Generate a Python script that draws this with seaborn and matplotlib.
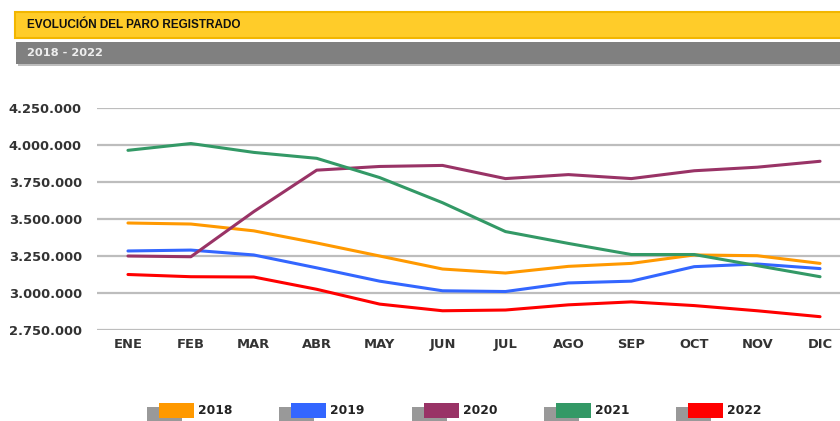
import matplotlib
matplotlib.use("Agg")
import matplotlib.pyplot as plt
from matplotlib.patches import Rectangle
from matplotlib.ticker import FuncFormatter
import seaborn as sns
import pandas as pd

# data
months = ["ENE", "FEB", "MAR", "ABR", "MAY", "JUN",
          "JUL", "AGO", "SEP", "OCT", "NOV", "DIC"]
years = ["2018", "2019", "2020", "2021", "2022"]
paro_2018 = [3473000, 3466000, 3420000, 3338000, 3250000, 3162000,
             3135000, 3180000, 3200000, 3257000, 3252000, 3200000]
paro_2019 = [3284000, 3290000, 3257000, 3170000, 3080000, 3015000,
             3010000, 3068000, 3080000, 3178000, 3196000, 3165000]
paro_2020 = [3250000, 3245000, 3550000, 3830000, 3855000, 3862000,
             3773000, 3800000, 3773000, 3826000, 3850000, 3890000]
paro_2021 = [3964000, 4010000, 3950000, 3910000, 3780000, 3610000,
             3415000, 3335000, 3260000, 3260000, 3185000, 3110000]
paro_2022 = [3125000, 3110000, 3108000, 3025000, 2925000, 2880000,
             2885000, 2920000, 2940000, 2915000, 2880000, 2840000]
y_ticks = [2750000, 3000000, 3250000, 3500000, 3750000, 4000000, 4250000]

colors = ["#FF9900", "#3366FF", "#993366", "#339966", "#FF0000"]

series = [paro_2018, paro_2019, paro_2020, paro_2021, paro_2022]
df = pd.concat([
    pd.DataFrame({"mes": range(len(months)), "paro": vals, "year": y})
    for y, vals in zip(years, series)
])

sns.set_style("white")
plt.rcParams["font.family"] = ["DejaVu Sans"]

W, H = 840, 421
fig = plt.figure(figsize=(W / 100, H / 100), dpi=100)

# plot area (pixel layout converted to figure fractions)
x0, x1 = 96.5, 851.5
y_top, y_bot = 108, 330
ax = fig.add_axes([x0 / W, 1 - y_bot / H, (x1 - x0) / W, (y_bot - y_top) / H])

sns.lineplot(data=df, x="mes", y="paro", hue="year", palette=colors,
             linewidth=2.2, legend=False, ax=ax)

ax.set_xlim(-0.5, 11.5)
ax.set_ylim(y_ticks[0], y_ticks[-1])
ax.set_yticks(y_ticks)
ax.set_xticks(range(len(months)))
ax.set_xticklabels(months)
ax.yaxis.set_major_formatter(FuncFormatter(lambda v, p: f"{v:,.0f}".replace(",", ".")))
ax.grid(axis="y", color="#BDBDBD", linewidth=1.6)
ax.set_axisbelow(True)
for s in ax.spines.values():
    s.set_visible(False)
ax.set_xlabel("")
ax.set_ylabel("")
ax.tick_params(axis="both", length=0, colors="#333333", labelsize=9.4)
ax.tick_params(axis="y", pad=10.5)
ax.tick_params(axis="x", pad=6)
for lab in ax.get_yticklabels() + ax.get_xticklabels():
    lab.set_fontweight("bold")


def px_rect(x, y, w, h, **kw):
    fig.patches.append(Rectangle((x / W, 1 - (y + h) / H), w / W, h / H,
                                 transform=fig.transFigure, **kw))


# header bars
px_rect(15, 12, 830, 26, facecolor="#FFCC29", edgecolor="#F2B600", linewidth=1.5)
px_rect(18, 45, 830, 21, facecolor="#BDBDBD", edgecolor="none")
px_rect(16, 42, 830, 22, facecolor="#808080", edgecolor="none")
fig.text(27 / W, 1 - 25 / H, "EVOLUCIÓN DEL PARO REGISTRADO", fontsize=8.5,
         fontweight="bold", color="#111111", va="center", ha="left",
         family="Liberation Sans")
fig.text(27 / W, 1 - 53 / H, "2018 - 2022", fontsize=8.2,
         fontweight="bold", color="#EEEEEE", va="center", ha="left")

# legend with shadowed swatches
for i, (y, c) in enumerate(zip(years, colors)):
    lx = 159 + i * 132.25
    px_rect(lx - 12, 407, 35, 15, facecolor="#999999", edgecolor="none")
    px_rect(lx, 403, 35, 15, facecolor=c, edgecolor="none")
    fig.text((lx + 39) / W, 1 - 411 / H, y, fontsize=8.8, fontweight="bold",
             color="#222222", va="center", ha="left")

fig.savefig("out.png", dpi=100)
